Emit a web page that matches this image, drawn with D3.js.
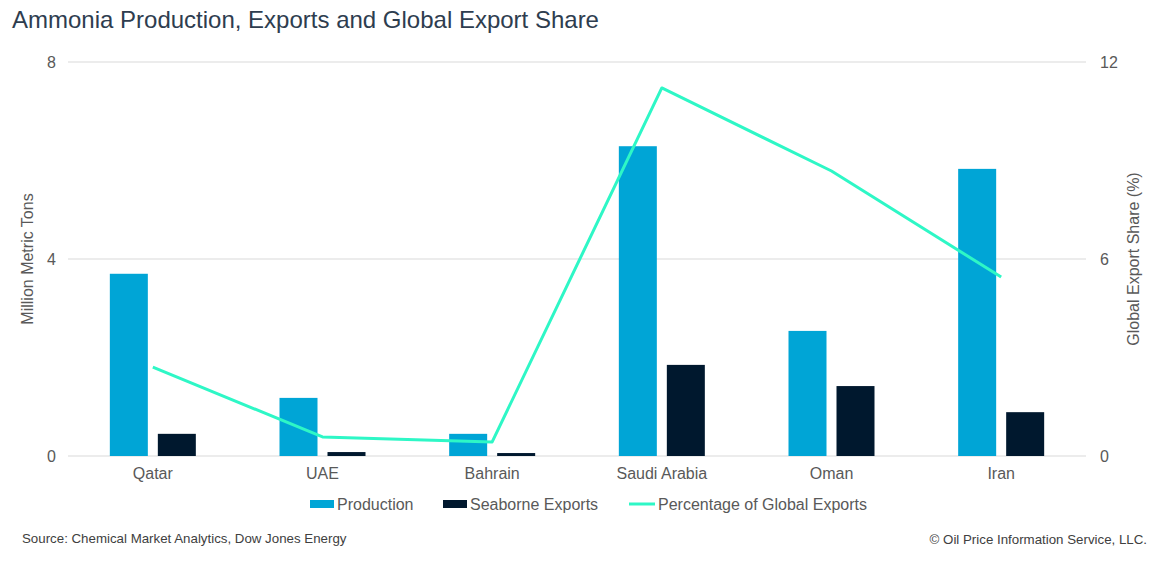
<!DOCTYPE html>
<html>
<head>
<meta charset="utf-8">
<script src="https://cdn.jsdelivr.net/npm/d3@7"></script>
<style>
  html, body { margin: 0; padding: 0; background: #fff; }
  svg { display: block; font-family: 'Liberation Sans', Arial, sans-serif; }
</style>
</head>
<body>
<div id="chart"></div>
<script>
'use strict';

var countries = ['Qatar', 'UAE', 'Bahrain', 'Saudi Arabia', 'Oman', 'Iran'];
var production = [3.70, 1.18, 0.45, 6.29, 2.54, 5.83];
var seaborneExports = [0.45, 0.08, 0.06, 1.85, 1.42, 0.89];
var globalShare = [2.71, 0.58, 0.43, 11.21, 8.68, 5.45];
var leftTicks = [0, 4, 8];
var rightTicks = [0, 6, 12];

var W = 1164, H = 561;
var margin = {left: 68, right: 78, top: 62, bottom: 105};
var plotW = W - margin.left - margin.right;
var plotH = H - margin.top - margin.bottom;

var colProd = '#00a5d6';
var colExp = '#00182e';
var colLine = '#2ef7c6';
var textCol = '#595959';
var fontFam = 'Liberation Sans, Arial, sans-serif';

var svg = d3.select('#chart').append('svg').attr('width', W).attr('height', H);

svg.append('text').attr('x', 12).attr('y', 28)
    .style('font-size', '24px').style('fill', '#2e3d4f')
    .text('Ammonia Production, Exports and Global Export Share');

var g = svg.append('g').attr('transform', 'translate(' + margin.left + ',' + margin.top + ')');

var x = d3.scaleBand().domain(countries).range([0, plotW]);
var yL = d3.scaleLinear().domain([0, 8]).range([plotH, 0]);
var yR = d3.scaleLinear().domain([0, 12]).range([plotH, 0]);

// gridlines
g.selectAll('.grid').data(leftTicks).enter().append('line')
    .attr('x1', 0).attr('x2', plotW)
    .attr('y1', function(d) { return yL(d); }).attr('y2', function(d) { return yL(d); })
    .style('stroke', '#d9d9d9').style('stroke-width', 1);

// left axis
var axL = g.append('g').call(d3.axisLeft(yL).tickValues(leftTicks).tickSize(0).tickPadding(12));
axL.select('.domain').remove();
axL.selectAll('text').style('font-size', '16px').style('fill', textCol).style('font-family', fontFam);

// right axis
var axR = g.append('g').attr('transform', 'translate(' + plotW + ',0)')
    .call(d3.axisRight(yR).tickValues(rightTicks).tickSize(0).tickPadding(14));
axR.select('.domain').remove();
axR.selectAll('text').style('font-size', '16px').style('fill', textCol).style('font-family', fontFam);

// bottom axis labels
var axB = g.append('g').attr('transform', 'translate(0,' + plotH + ')')
    .call(d3.axisBottom(x).tickSize(0).tickPadding(12));
axB.select('.domain').remove();
axB.selectAll('text').style('font-size', '16px').style('fill', textCol).style('font-family', fontFam);

// axis titles
svg.append('text')
    .attr('transform', 'translate(33,' + (margin.top + plotH / 2) + ') rotate(-90)')
    .attr('text-anchor', 'middle').style('font-size', '16px').style('fill', textCol)
    .text('Million Metric Tons');
svg.append('text')
    .attr('transform', 'translate(1139,' + (margin.top + plotH / 2) + ') rotate(-90)')
    .attr('text-anchor', 'middle').style('font-size', '16px').style('fill', textCol)
    .text('Global Export Share (%)');

// bars
var barW = 38, barGap = 10;
g.selectAll('.prod').data(production).enter().append('rect')
    .attr('x', function(d, i) { return x(countries[i]) + x.bandwidth() / 2 - barGap / 2 - barW; })
    .attr('y', function(d) { return yL(d); })
    .attr('width', barW)
    .attr('height', function(d) { return plotH - yL(d); })
    .style('fill', colProd);

g.selectAll('.exp').data(seaborneExports).enter().append('rect')
    .attr('x', function(d, i) { return x(countries[i]) + x.bandwidth() / 2 + barGap / 2; })
    .attr('y', function(d) { return yL(d); })
    .attr('width', barW)
    .attr('height', function(d) { return plotH - yL(d); })
    .style('fill', colExp);

// line
var line = d3.line()
    .x(function(d, i) { return x(countries[i]) + x.bandwidth() / 2; })
    .y(function(d) { return yR(d); });
g.append('path').datum(globalShare)
    .attr('d', line)
    .style('fill', 'none').style('stroke', colLine).style('stroke-width', 3)
    .style('stroke-linejoin', 'round');

// legend
var leg = svg.append('g').attr('transform', 'translate(0,504)');
leg.append('rect').attr('x', 310).attr('y', -4).attr('width', 24).attr('height', 8).style('fill', colProd);
leg.append('text').attr('x', 337).attr('y', 6).style('font-size', '16px').style('fill', textCol).text('Production');
leg.append('rect').attr('x', 443).attr('y', -4).attr('width', 24).attr('height', 8).style('fill', colExp);
leg.append('text').attr('x', 470).attr('y', 6).style('font-size', '16px').style('fill', textCol).text('Seaborne Exports');
leg.append('line').attr('x1', 629).attr('x2', 655).attr('y1', 0).attr('y2', 0)
    .style('stroke', colLine).style('stroke-width', 3);
leg.append('text').attr('x', 658).attr('y', 6).style('font-size', '16px').style('fill', textCol).text('Percentage of Global Exports');

// footer
svg.append('text').attr('x', 22).attr('y', 543).style('font-size', '13.3px').style('fill', '#404040')
    .text('Source: Chemical Market Analytics, Dow Jones Energy');
svg.append('text').attr('x', 1147).attr('y', 544).attr('text-anchor', 'end')
    .style('font-size', '13.3px').style('fill', '#404040')
    .text('\u00a9 Oil Price Information Service, LLC.');
</script>
</body>
</html>
